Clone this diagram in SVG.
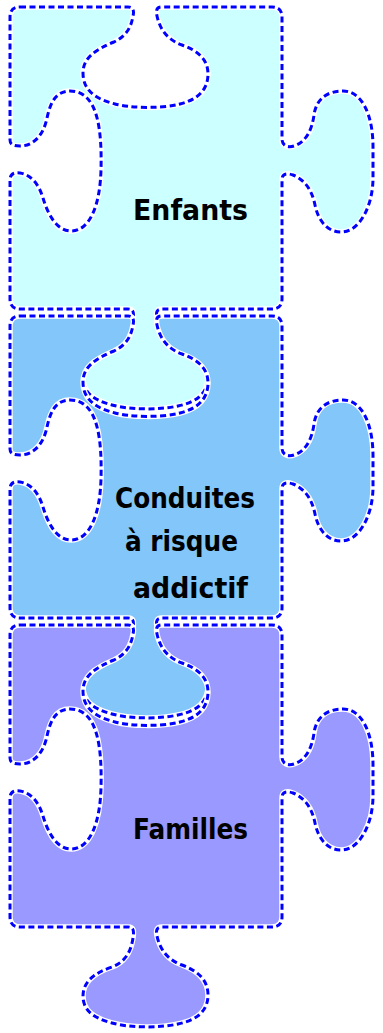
<svg xmlns="http://www.w3.org/2000/svg" xmlns:xlink="http://www.w3.org/1999/xlink" width="383" height="1033" viewBox="0 0 383 1033">
<style>
.halo{fill:none;stroke:#ffffff;stroke-width:5.5;stroke-linejoin:round}
.edge{fill:none;stroke:#0000ff;stroke-width:3;stroke-dasharray:6 3.5}
.label{font-family:"DejaVu Sans",sans-serif;font-weight:bold;font-size:28px;fill:#000000}
</style>
<defs>
<path id="piece" d="M 20,7 L 128,7 C 134,7 134,12 133,16 C 131,28 126,36 114,42 C 95,50 83,58 83,73 C 83,90 95,99 115,104 C 130,108 160,109 180,104 C 200,99 208,88 208,74 C 208,58 196,50 182,45 C 168,40 160,30 157,16 C 156,11 156,7 162,7 L 272,7 Q 282,7 282,17 L 282,139 C 282,146 288,148 294,146 C 306,142 312,130 314,115 C 316,100 326,91 343,91 C 362,91 373,115 373,147 L 373,178 C 373,205 360,232 341,232 C 327,232 318,220 315,205 C 312,190 305,180 293,175 C 287,173 282,173 282,180 L 282,299 Q 282,309 272,309 L 162,309 C 156,309 156,313 157,318 C 160,332 168,342 182,347 C 198,353 208,362 208,377 C 208,392 198,402 178,406 C 160,410 130,410 112,405 C 93,400 83,392 83,378 C 83,364 94,355 112,349 C 125,344 131,334 133,320 C 134,313 134,309 128,309 L 20,309 Q 10,309 10,299 L 10,180 C 10,174 14,172 20,173 C 32,175 39,185 43,198 C 48,215 57,231 71,231 C 90,231 100,205 101,170 C 102,130 98,91 70,91 C 55,91 50,104 47,118 C 44,133 35,146 20,146 C 14,146 10,145 10,140 L 10,17 Q 10,7 20,7 Z"/>
</defs>
<g id="enfants">
<g>
<use href="#piece" xlink:href="#piece" fill="#ccffff"/>
<use href="#piece" xlink:href="#piece" class="halo"/>
<use href="#piece" xlink:href="#piece" class="edge"/>
</g>
<text class="label" x="133" y="220" textLength="115" lengthAdjust="spacingAndGlyphs">Enfants</text>
</g>
<g id="conduites">
<g transform="translate(0,309)">
<use href="#piece" xlink:href="#piece" fill="#82c6fa"/>
<use href="#piece" xlink:href="#piece" class="halo"/>
<use href="#piece" xlink:href="#piece" class="edge"/>
</g>
<text class="label" x="115" y="508" textLength="140" lengthAdjust="spacingAndGlyphs">Conduites</text>
<text class="label" x="125" y="551" textLength="113" lengthAdjust="spacingAndGlyphs">à risque</text>
<text class="label" x="133" y="598" textLength="115" lengthAdjust="spacingAndGlyphs">addictif</text>
</g>
<g id="familles">
<g transform="translate(0,618)">
<use href="#piece" xlink:href="#piece" fill="#9999ff"/>
<use href="#piece" xlink:href="#piece" class="halo"/>
<use href="#piece" xlink:href="#piece" class="edge"/>
</g>
<text class="label" x="133" y="839" textLength="115" lengthAdjust="spacingAndGlyphs">Familles</text>
</g>
<g id="connectors"/>
</svg>
